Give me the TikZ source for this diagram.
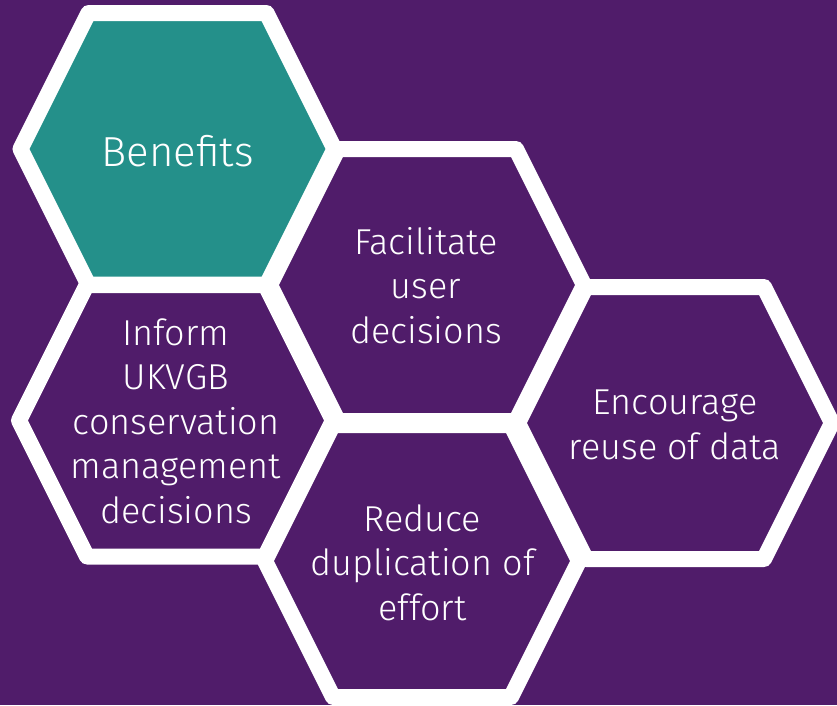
\documentclass[tikz,border=0pt]{standalone}
\usepackage{fontspec}
\setmainfont{Fira Sans Light}
\definecolor{bgpurple}{RGB}{80,28,106}
\definecolor{tealfill}{RGB}{36,144,138}
\begin{document}
\begin{tikzpicture}[x=1pt,y=-1pt,
  hexline/.style={draw=white,line width=16pt,line join=round},
  hexlabel/.style={text=white,align=center,anchor=base,inner sep=0pt,font=\fontsize{36}{44.5}\selectfont},
  biglabel/.style={text=white,anchor=base,inner sep=0pt,font=\fontsize{42}{50}\selectfont}]
\fill[bgpurple] (0,0) rectangle (837,705);
\useasboundingbox (0,0) rectangle (837,705);
\foreach \cx/\cy/\col in {177.5/149/tealfill,176/420.5/bgpurple,427/285/bgpurple,422/561/bgpurple,675/423/bgpurple}
  \fill[\col,shift={(\cx,\cy)}] (-157,0) -- (-89,-136) -- (89,-136) -- (157,0) -- (89,136) -- (-89,136) -- cycle;
\foreach \cx/\cy in {177.5/149,176/420.5,427/285,422/561,675/423}
  \path[hexline,shift={(\cx,\cy)}] (-157,0) -- (-89,-136) -- (89,-136) -- (157,0) -- (89,136) -- (-89,136) -- cycle;
\node[biglabel] (benefits) at (177.5,166) {Benefits};
\node[hexlabel] (facilitate) at (426,343) {Facilitate\\user\\decisions};
\node[hexlabel] (inform) at (176,523) {Inform\\UKVGB\\conservation\\management\\decisions};
\node[hexlabel] (reduce) at (422.5,620) {Reduce\\duplication of\\effort};
\node[hexlabel] (encourage) at (675,459) {Encourage\\reuse of data};
\end{tikzpicture}
\end{document}
